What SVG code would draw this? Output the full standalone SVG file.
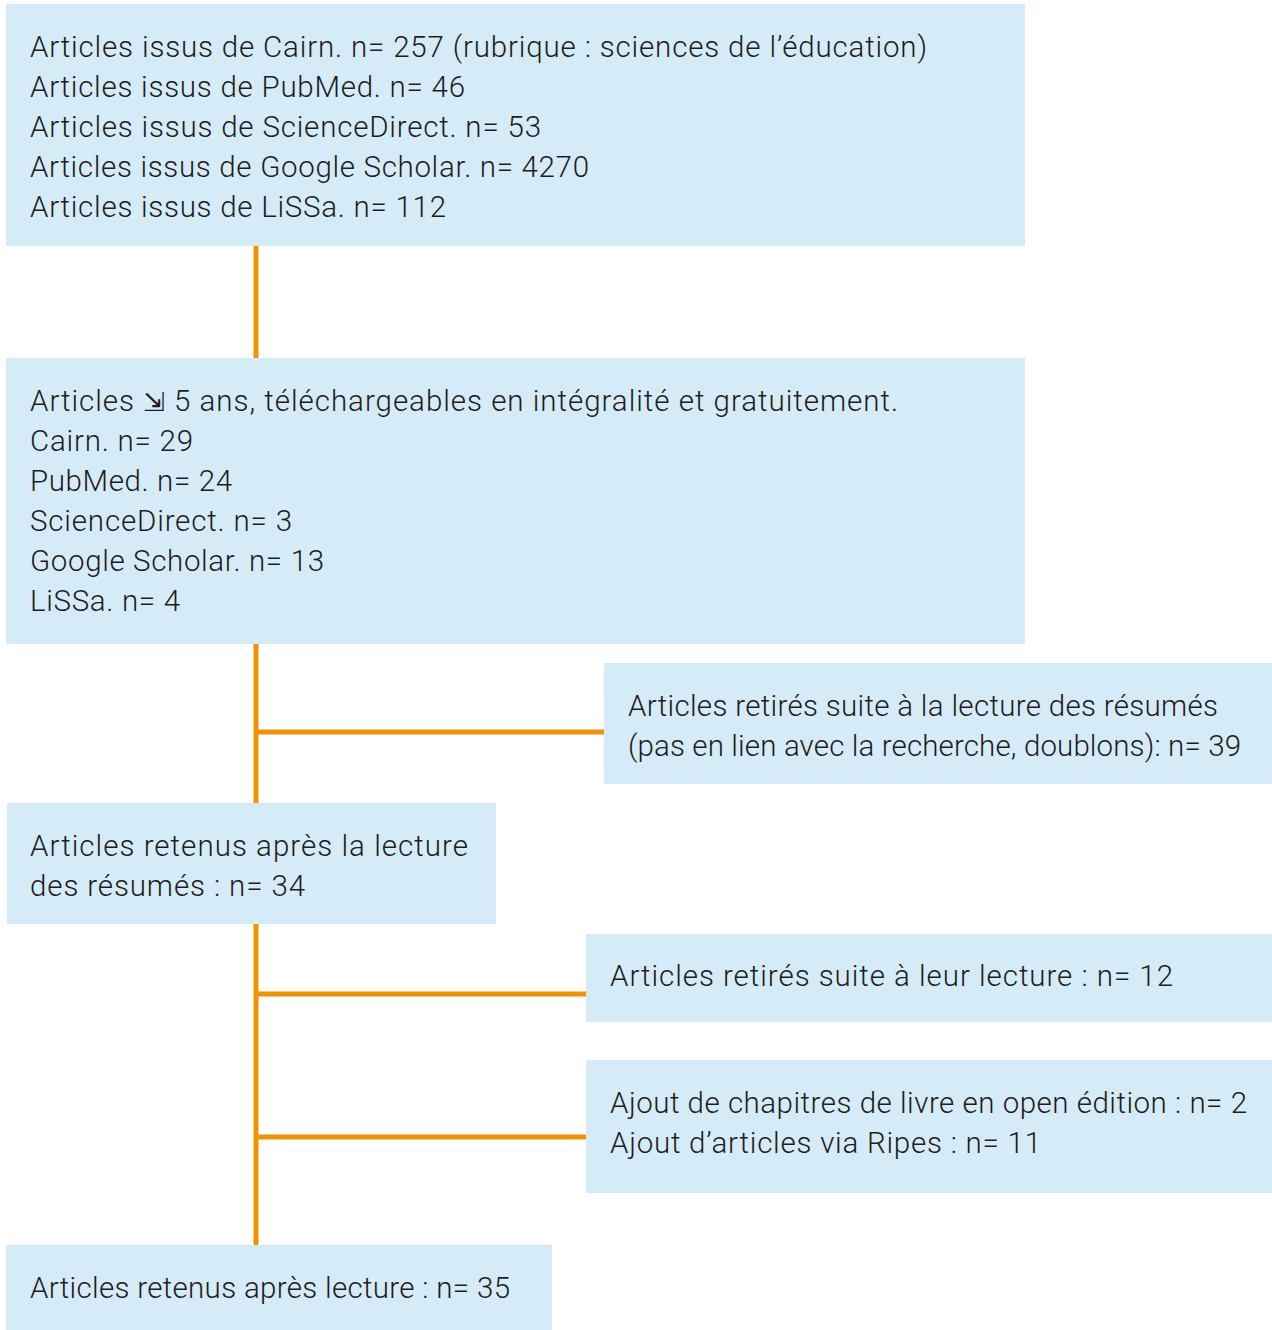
<svg xmlns="http://www.w3.org/2000/svg" width="1272" height="1330" viewBox="0 0 1272 1330">
<style>
.box{fill:#D5EBF8}
.t{font-family:Roboto,"Liberation Sans",sans-serif;font-weight:300;font-size:29.5px;fill:#1d1d1b}
.c{stroke:#F39200;stroke-width:5;fill:none}
.sym{font-family:"DejaVu Sans",sans-serif;font-weight:400;font-size:26px}
</style>
<rect width="1272" height="1330" fill="#ffffff"/>
<g id="connectors">
<line class="c" x1="256" y1="246" x2="256" y2="358"/>
<line class="c" x1="256" y1="644" x2="256" y2="803"/>
<line class="c" x1="256" y1="732" x2="604" y2="732"/>
<line class="c" x1="256" y1="924" x2="256" y2="1245"/>
<line class="c" x1="256" y1="994" x2="586" y2="994"/>
<line class="c" x1="256" y1="1137" x2="586" y2="1137"/>
</g>
<g id="n1">
<rect class="box" x="6" y="4" width="1019" height="242"/>
<text class="t" x="30" y="57" textLength="897" lengthAdjust="spacing">Articles issus de Cairn. n= 257 (rubrique : sciences de l’éducation)</text>
<text class="t" x="30" y="97" textLength="435" lengthAdjust="spacing">Articles issus de PubMed. n= 46</text>
<text class="t" x="30" y="137" textLength="511" lengthAdjust="spacing">Articles issus de ScienceDirect. n= 53</text>
<text class="t" x="30" y="177" textLength="559" lengthAdjust="spacing">Articles issus de Google Scholar. n= 4270</text>
<text class="t" x="30" y="217" textLength="416" lengthAdjust="spacing">Articles issus de LiSSa. n= 112</text>
</g>
<g id="n2">
<rect class="box" x="6" y="358" width="1019" height="286"/>
<text class="t" x="30" y="411" textLength="868" lengthAdjust="spacing">Articles <tspan class="sym">⇲</tspan> 5 ans, téléchargeables en intégralité et gratuitement.</text>
<text class="t" x="30" y="451" textLength="163" lengthAdjust="spacing">Cairn. n= 29</text>
<text class="t" x="30" y="491" textLength="202" lengthAdjust="spacing">PubMed. n= 24</text>
<text class="t" x="30" y="531" textLength="262" lengthAdjust="spacing">ScienceDirect. n= 3</text>
<text class="t" x="30" y="571" textLength="294" lengthAdjust="spacing">Google Scholar. n= 13</text>
<text class="t" x="30" y="611" textLength="150" lengthAdjust="spacing">LiSSa. n= 4</text>
</g>
<g id="n3">
<rect class="box" x="604" y="663" width="668" height="121"/>
<text class="t" x="628" y="716" textLength="590" lengthAdjust="spacing">Articles retirés suite à la lecture des résumés</text>
<text class="t" x="628" y="756" textLength="613" lengthAdjust="spacing">(pas en lien avec la recherche, doublons): n= 39</text>
</g>
<g id="n4">
<rect class="box" x="7" y="803" width="489" height="121"/>
<text class="t" x="30" y="856" textLength="438" lengthAdjust="spacing">Articles retenus après la lecture</text>
<text class="t" x="30" y="896" textLength="275" lengthAdjust="spacing">des résumés : n= 34</text>
</g>
<g id="n5">
<rect class="box" x="586" y="934" width="686" height="88"/>
<text class="t" x="610" y="986" textLength="563" lengthAdjust="spacing">Articles retirés suite à leur lecture : n= 12</text>
</g>
<g id="n6">
<rect class="box" x="586" y="1060" width="686" height="133"/>
<text class="t" x="610" y="1113" textLength="637" lengthAdjust="spacing">Ajout de chapitres de livre en open édition : n= 2</text>
<text class="t" x="610" y="1153" textLength="431" lengthAdjust="spacing">Ajout d’articles via Ripes : n= 11</text>
</g>
<g id="n7">
<rect class="box" x="6" y="1245" width="546" height="85"/>
<text class="t" x="30" y="1298" textLength="480" lengthAdjust="spacing">Articles retenus après lecture : n= 35</text>
</g>
</svg>
